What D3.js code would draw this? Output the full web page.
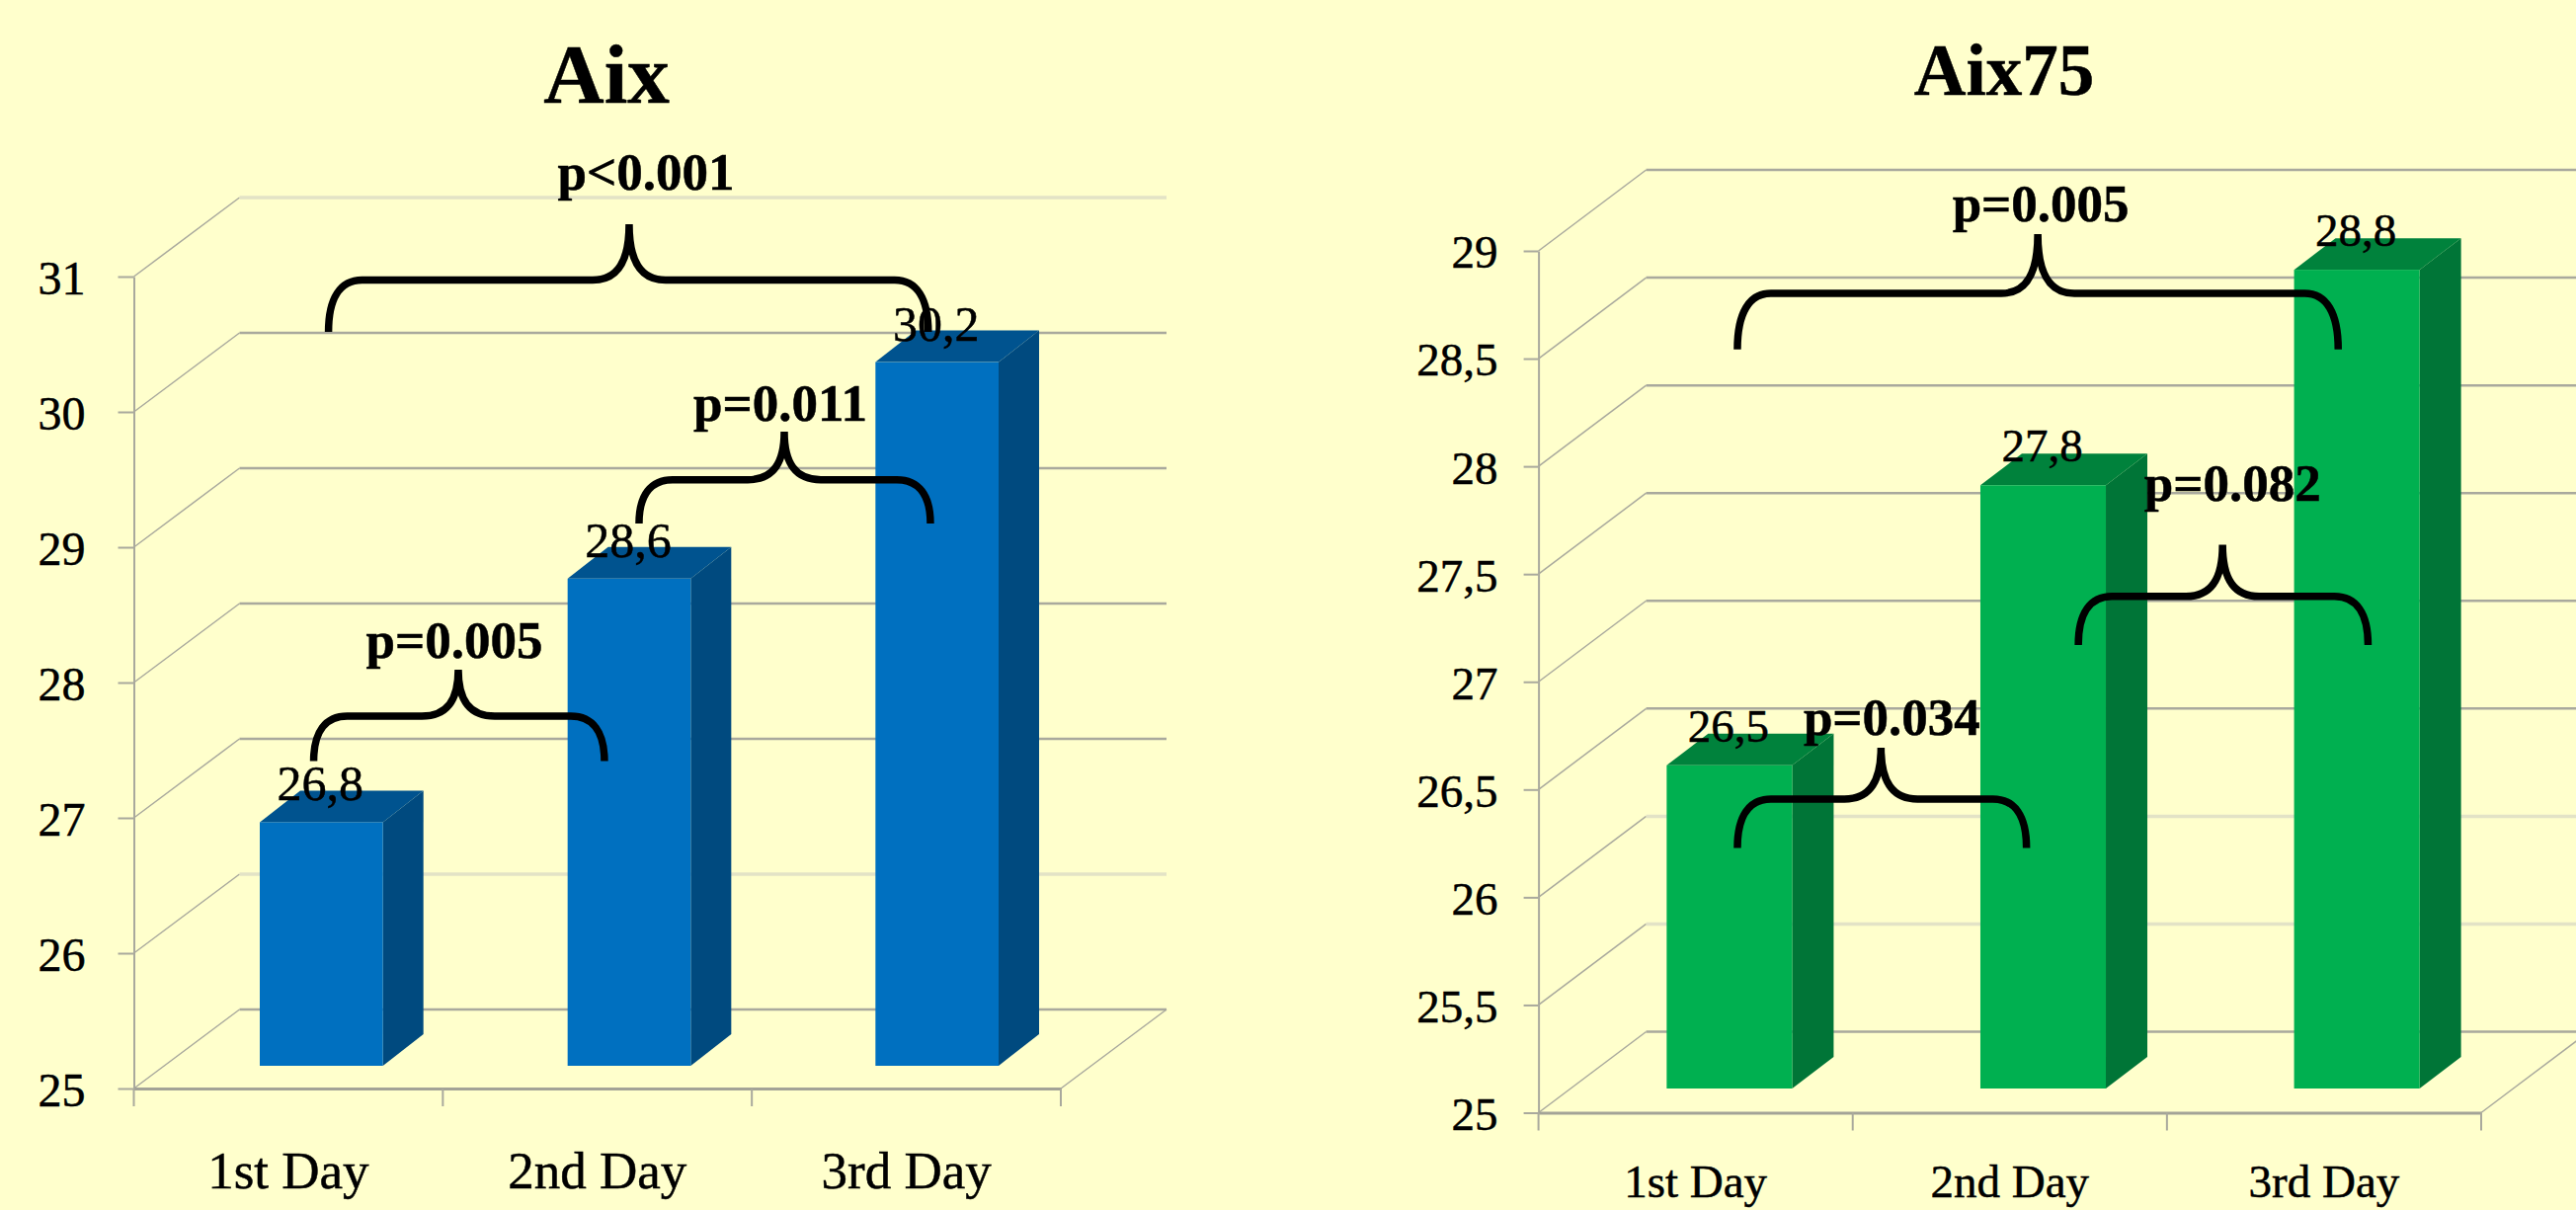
<!DOCTYPE html>
<html>
<head>
<meta charset="utf-8">
<title>Aix and Aix75 by day</title>
<script src="https://cdn.jsdelivr.net/npm/d3@7"></script>
<style>
  html, body { margin: 0; padding: 0; background: #FFFFCC; overflow: hidden; }
  svg { display: block; }
  text { font-family: "Liberation Serif", serif; fill: #000; stroke: #000; stroke-width: 0.5px; }
</style>
</head>
<body>
<script>
// Chart values
const categories = ["1st Day", "2nd Day", "3rd Day"];
const aixValues = [26.8, 28.6, 30.2];
const aix75Values = [26.5, 27.8, 28.8];
const aixTicks = [25, 26, 27, 28, 29, 30, 31];
const aix75Ticks = [25, 25.5, 26, 26.5, 27, 27.5, 28, 28.5, 29];
const aixPValues = ["p<0.001", "p=0.011", "p=0.005"];
const aix75PValues = ["p=0.005", "p=0.082", "p=0.034"];

// Brace geometry in axis units: x counts category widths from the axis, y is on the value scale.
const aixBraces = [
  { x0: 0.630, xc: 1.603, x1: 2.571, bar: 30.974, cusp: 31.387, end: 30.591, dx: 17, dy: -35 },
  { x0: 1.635, xc: 2.105, x1: 2.578, bar: 29.499, cusp: 29.854, end: 29.175, dx: -4, dy: -11 },
  { x0: 0.582, xc: 1.050, x1: 1.523, bar: 27.752, cusp: 28.095, end: 27.420, dx: -4, dy: -12 }
];
const aix75Braces = [
  { x0: 0.633, xc: 1.589, x1: 2.545, bar: 28.803, cusp: 29.078, end: 28.543, dx: 3, dy: -13 },
  { x0: 1.718, xc: 2.177, x1: 2.640, bar: 27.396, cusp: 27.636, end: 27.171, dx: 10, dy: -45 },
  { x0: 0.633, xc: 1.090, x1: 1.553, bar: 26.456, cusp: 26.694, end: 26.229, dx: 11, dy: -13 }
];

const commaFormat = v => String(v).replace(".", ",");
const gridColor = "#a9a99d";
const faintGrid = "#e3e3c6";

const svg = d3.select("body").append("svg")
  .attr("width", 2608).attr("height", 1225);

svg.append("rect").attr("width", 2608).attr("height", 1225).attr("fill", "#FFFFCC");

function drawPanel(cfg) {
  const g = svg.append("g");
  const y = d3.scaleLinear().domain(cfg.domain).range([cfg.yBase, cfg.yTop]);
  const xTick = d3.scaleLinear().domain([0, categories.length]).range([cfg.xLeft, cfg.xRight]);
  const xLabel = d3.scaleBand().domain(categories).range([cfg.xLeft, cfg.xRight]);
  const xBar = d3.scaleBand().domain(categories).range(cfg.barRange)
    .paddingInner(0.6).paddingOuter(0.3);
  const base = cfg.domain[0];

  // Back wall, side wall and floor
  g.append("g").selectAll("path").data(cfg.ticks).join("path")
    .attr("d", t => {
      const p = d3.path();
      p.moveTo(cfg.xLeft, y(t));
      p.lineTo(cfg.xLeft + cfg.depthX, y(t) - cfg.depthY);
      return p.toString();
    })
    .attr("fill", "none").attr("stroke", gridColor).attr("stroke-width", 1.5);

  g.append("g").selectAll("line").data(cfg.ticks).join("line")
    .attr("x1", cfg.xLeft + cfg.depthX)
    .attr("x2", cfg.xRight + cfg.depthX)
    .attr("y1", t => y(t) - cfg.depthY)
    .attr("y2", t => y(t) - cfg.depthY)
    .attr("stroke", t => cfg.faint.includes(t) ? faintGrid : gridColor)
    .attr("stroke-width", t => cfg.faint.includes(t) ? 3.5 : 2.5);

  const floorEdge = d3.path();
  floorEdge.moveTo(cfg.xRight, y(base));
  floorEdge.lineTo(cfg.xRight + cfg.depthX, y(base) - cfg.depthY);
  g.append("path").attr("d", floorEdge.toString())
    .attr("fill", "none").attr("stroke", gridColor).attr("stroke-width", 1.5);

  // Value axis
  const yAxis = d3.axisLeft(y).tickValues(cfg.ticks).tickFormat(commaFormat)
    .tickSize(cfg.tickLen).tickSizeOuter(0).tickPadding(cfg.tickPad);
  const yG = g.append("g").attr("transform", `translate(${cfg.xLeft},0)`).call(yAxis);
  yG.select(".domain").attr("stroke", gridColor).attr("stroke-width", 2);
  yG.selectAll(".tick line").attr("stroke", gridColor).attr("stroke-width", 2);
  yG.selectAll(".tick text").attr("font-size", cfg.tickFont)
    .attr("font-family", "Liberation Serif").attr("fill", "#000")
    .attr("dy", cfg.tickDy);

  // Category axis, with ticks on the band edges
  const xAxis = d3.axisBottom(xLabel).tickSize(0).tickSizeOuter(0).tickPadding(cfg.labelPad);
  const xG = g.append("g").attr("transform", `translate(0,${y(base)})`).call(xAxis);
  xG.select(".domain").attr("stroke", "#a3a397").attr("stroke-width", 3);
  xG.selectAll(".tick text").attr("font-size", cfg.labelFont)
    .attr("font-family", "Liberation Serif").attr("fill", "#000");
  g.append("g").selectAll("line").data(d3.range(categories.length + 1)).join("line")
    .attr("x1", xTick).attr("x2", xTick)
    .attr("y1", y(base)).attr("y2", y(base) + cfg.xTickLen)
    .attr("stroke", gridColor).attr("stroke-width", 2);

  // Columns: front face, top face, side face
  const rows = categories.map((c, i) => ({ c, v: cfg.values[i] }));
  const bx = d => xBar(d.c), bw = xBar.bandwidth();
  const front = v => y(v) - cfg.lift;
  const bars = g.append("g").selectAll("g").data(rows).join("g");
  bars.append("path")
    .attr("d", d => {
      const p = d3.path();
      p.moveTo(bx(d) + bw, front(d.v));
      p.lineTo(bx(d) + bw + cfg.barDX, front(d.v) - cfg.barDY);
      p.lineTo(bx(d) + bw + cfg.barDX, front(base) - cfg.barDY);
      p.lineTo(bx(d) + bw, front(base));
      p.closePath();
      return p.toString();
    })
    .attr("fill", cfg.sideColor);
  bars.append("path")
    .attr("d", d => {
      const p = d3.path();
      p.moveTo(bx(d), front(d.v));
      p.lineTo(bx(d) + cfg.barDX, front(d.v) - cfg.barDY);
      p.lineTo(bx(d) + bw + cfg.barDX, front(d.v) - cfg.barDY);
      p.lineTo(bx(d) + bw, front(d.v));
      p.closePath();
      return p.toString();
    })
    .attr("fill", cfg.topColor);
  bars.append("rect")
    .attr("x", bx).attr("width", bw)
    .attr("y", d => front(d.v))
    .attr("height", d => front(base) - front(d.v))
    .attr("fill", cfg.frontColor);

  // Column value labels
  bars.append("text")
    .attr("x", d => bx(d) + bw / 2 - 1)
    .attr("y", d => front(d.v) - cfg.valueGap)
    .attr("text-anchor", "middle")
    .attr("font-size", cfg.valueFont)
    .text(d => commaFormat(d.v));

  // Significance braces and their p-values
  const bracePath = b => {
    const xl = xTick(b.x0), xc = xTick(b.xc), xr = xTick(b.x1);
    const yb = y(b.bar), yc = y(b.cusp), ye = y(b.end);
    const s = 34, h = 37;
    const p = d3.path();
    p.moveTo(xl, ye);
    p.bezierCurveTo(xl, yb + (ye - yb) * 0.35, xl + s * 0.35, yb, xl + s, yb);
    p.lineTo(xc - h, yb);
    p.bezierCurveTo(xc - h * 0.3, yb, xc, yb - (yb - yc) * 0.35, xc, yc);
    p.bezierCurveTo(xc, yb - (yb - yc) * 0.35, xc + h * 0.3, yb, xc + h, yb);
    p.lineTo(xr - s, yb);
    p.bezierCurveTo(xr - s * 0.35, yb, xr, yb + (ye - yb) * 0.35, xr, ye);
    return p.toString();
  };
  const notes = g.append("g").selectAll("g").data(cfg.braces).join("g");
  notes.append("path").attr("d", bracePath)
    .attr("fill", "none").attr("stroke", "#000").attr("stroke-width", 7.5);
  notes.append("text")
    .attr("x", d => xTick(d.xc) + d.dx)
    .attr("y", d => y(d.cusp) + d.dy)
    .attr("text-anchor", "middle")
    .attr("font-size", 53)
    .attr("font-weight", "bold")
    .text((d, i) => cfg.pValues[i]);

  // Panel heading
  g.append("text")
    .attr("x", cfg.titleX).attr("y", cfg.titleY)
    .attr("text-anchor", "middle")
    .attr("font-size", cfg.titleFont)
    .attr("font-weight", "bold")
    .text(cfg.title);
}

drawPanel({
  title: "Aix", titleX: 614, titleY: 104, titleFont: 85,
  values: aixValues, ticks: aixTicks, braces: aixBraces, pValues: aixPValues,
  domain: [25, 31], yBase: 1102, yTop: 280,
  xLeft: 135.5, xRight: 1074, barRange: [169.5, 1104.5],
  depthX: 107, depthY: 80, lift: 23, barDX: 41, barDY: 32,
  faint: [26, 31],
  tickLen: 16, tickPad: 33, tickFont: 48, tickDy: "0.36em",
  labelPad: 63, labelFont: 53, xTickLen: 18,
  valueFont: 50, valueGap: 22,
  frontColor: "#0070C0", sideColor: "#004A7F", topColor: "#00538F"
});

drawPanel({
  title: "Aix75", titleX: 2029, titleY: 96, titleFont: 73,
  values: aix75Values, ticks: aix75Ticks, braces: aix75Braces, pValues: aix75PValues,
  domain: [25, 29], yBase: 1126.5, yTop: 254,
  xLeft: 1557.6, xRight: 2512, barRange: [1592.1, 2544.9],
  depthX: 109, depthY: 82, lift: 24.5, barDX: 42, barDY: 32,
  faint: [25.5, 26],
  tickLen: 15, tickPad: 26, tickFont: 47, tickDy: "0.36em",
  labelPad: 52, labelFont: 47, xTickLen: 18,
  valueFont: 47, valueGap: 24,
  frontColor: "#00B050", sideColor: "#007537", topColor: "#00823C"
});
</script>
</body>
</html>
